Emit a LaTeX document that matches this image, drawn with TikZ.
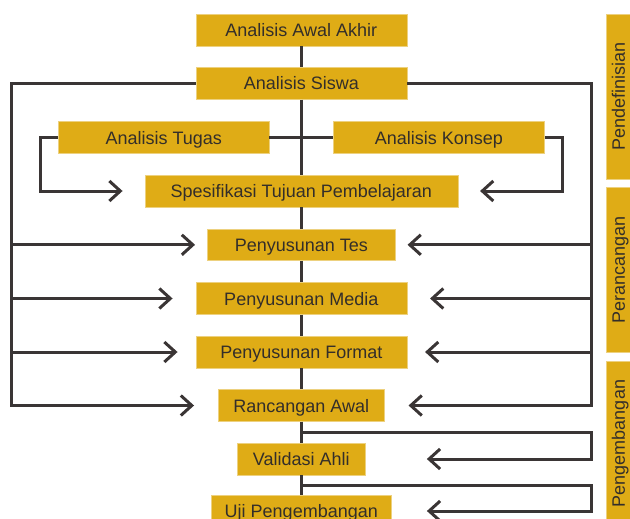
\documentclass[tikz,border=0pt]{standalone}
\usepackage{fontspec}
\setmainfont{Liberation Sans}
\usetikzlibrary{arrows.meta}

\definecolor{boxgold}{RGB}{223,172,22}
\definecolor{linegray}{RGB}{58,53,53}
\definecolor{textgray}{RGB}{51,46,42}

\tikzset{
	stage/.style={fill=boxgold, draw=boxgold!55!white, line width=0.5pt, text=textgray,
		minimum height=31.7pt, inner sep=0pt, text height=13pt, text depth=0pt,
		font=\fontsize{18}{20}\selectfont},
	phase/.style={stage, minimum width=165pt, minimum height=23.3pt, rotate=90},
	link/.style={line width=3pt, draw=linegray},
	feed/.style={link, -{Straight Barb[length=11pt, width=20pt]}},
}

\begin{document}
\begin{tikzpicture}[x=1pt, y=-1pt]
	\useasboundingbox (0,0) rectangle (630,519);
	\clip (0,0) rectangle (630,519);

	\node (awal) at (301.3,30) [stage, minimum width=211pt] {Analisis Awal Akhir};
	\node (siswa) at (301.3,83.5) [stage, minimum width=211pt] {Analisis Siswa};
	\node (tugas) at (163.7,137.5) [stage, minimum width=211pt] {Analisis Tugas};
	\node (konsep) at (439,137.5) [stage, minimum width=211pt] {Analisis Konsep};
	\node (spesifikasi) at (301.3,191) [stage, minimum width=313pt] {Spesifikasi Tujuan Pembelajaran};
	\node (tes) at (301.3,244.8) [stage, minimum width=188pt] {Penyusunan Tes};
	\node (media) at (301.3,298.5) [stage, minimum width=211pt] {Penyusunan Media};
	\node (format) at (301.3,352) [stage, minimum width=211pt] {Penyusunan Format};
	\node (rancangan) at (301.3,405.5) [stage, minimum width=166pt] {Rancangan Awal};
	\node (validasi) at (301.3,459) [stage, minimum width=128.6pt] {Validasi Ahli};
	\node (uji) at (301.3,511) [stage, minimum width=180.7pt] {Uji Pengembangan};

	\node (definisi) at (618.3,96.5) [phase] {Pendefinisian};
	\node (rancang) at (618.3,270) [phase] {Perancangan};
	\node (kembang) at (618.3,443.5) [phase] {Pengembangan};

	% spine
	\foreach \a/\b in {awal/siswa, siswa/spesifikasi, spesifikasi/tes, tes/media,
		media/format, format/rancangan, rancangan/validasi, validasi/uji}
		\draw[link] (\a.south) -- (\b.north);
	\draw[link] (tugas.east) -- (konsep.west);

	% outer frame
	\coordinate (frame-left) at (11.2,405.5);
	\coordinate (frame-right) at (591.4,405.5);
	\draw[feed, shorten >=24pt] (siswa.west) -| (frame-left) -- (rancangan.west);
	\draw[feed, shorten >=24pt] (siswa.east) -| (frame-right) -- (rancangan.east);
	\foreach \n/\gap in {tes/12, media/23, format/18} {
		\draw[feed, shorten >=\gap pt] (frame-left |- \n) -- (\n.west);
		\draw[feed, shorten >=\gap pt] (frame-right |- \n) -- (\n.east);
	}

	% task and concept
	\coordinate (tugas-turn) at (40.2,191);
	\coordinate (konsep-turn) at (562.5,191);
	\draw[feed, shorten >=22pt] (tugas.west) -| (tugas-turn) -- (spesifikasi.west);
	\draw[feed, shorten >=22pt] (konsep.east) -| (konsep-turn) -- (spesifikasi.east);

	% development loops
	\coordinate (validasi-split) at (301.3,432.5);
	\coordinate (validasi-turn) at (591.4,459);
	\coordinate (uji-split) at (301.3,485.5);
	\coordinate (uji-turn) at (591.4,511);
	\draw[feed, shorten >=61pt] (validasi-split) -| (validasi-turn) -- (validasi.east);
	\draw[feed, shorten >=35pt] (uji-split) -| (uji-turn) -- (uji.east);
\end{tikzpicture}
\end{document}
